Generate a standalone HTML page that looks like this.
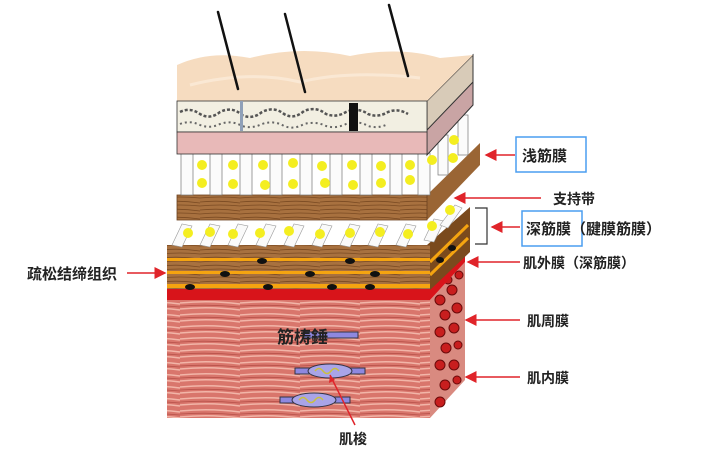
<!DOCTYPE html>
<html><head><meta charset="utf-8"><style>
html,body{margin:0;padding:0;background:#fff;}
svg{display:block;}
text{font-family:"Liberation Sans","Noto Sans CJK SC",sans-serif;fill:#222;font-weight:bold;}
</style></head><body>
<svg width="704" height="461" viewBox="0 0 704 461" xmlns="http://www.w3.org/2000/svg">
<defs>
<pattern id="wood" width="40" height="8" patternUnits="userSpaceOnUse">
<rect width="40" height="8" fill="#a8713f"/><path d="M0 2 Q20 0 40 3 M0 6 Q20 4 40 6" stroke="#7a4a22" stroke-width="0.8" fill="none"/>
</pattern>
<pattern id="muscle" width="60" height="12" patternUnits="userSpaceOnUse">
<rect width="60" height="12" fill="#d9766c"/><path d="M0 3 Q30 0 60 4 M0 9 Q30 6 60 10" stroke="#f2b5a8" stroke-width="1.5" fill="none"/><path d="M0 6 Q30 4 60 7" stroke="#b8524a" stroke-width="0.8" fill="none"/>
</pattern>
<marker id="ar" markerWidth="8" markerHeight="8" refX="7" refY="4" orient="auto"><path d="M0 0 L8 4 L0 8z" fill="#e0242a"/></marker>
</defs>

<!-- muscle block -->
<polygon points="430,300 465,262 465,380 430,418" fill="#d98a80"/>
<g fill="#c81e1e" stroke="#6a0a0a" stroke-width="1">
<circle cx="440" cy="300" r="5"/><circle cx="452" cy="290" r="5"/><circle cx="445" cy="315" r="5"/><circle cx="457" cy="308" r="5"/><circle cx="440" cy="332" r="5"/><circle cx="454" cy="328" r="5"/><circle cx="446" cy="348" r="5"/><circle cx="458" cy="345" r="4"/><circle cx="440" cy="365" r="5"/><circle cx="454" cy="365" r="5"/><circle cx="445" cy="385" r="5"/><circle cx="457" cy="380" r="4"/><circle cx="440" cy="402" r="5"/><circle cx="459" cy="275" r="4"/><circle cx="448" cy="280" r="4"/>
</g>
<rect x="167" y="300" width="263" height="118" fill="url(#muscle)"/>
<!-- red layer -->
<polygon points="167,287 430,287 465,252 465,262 430,300 167,300" fill="#d8141a"/>
<!-- deep fascia block -->
<polygon points="427,245 470,207 470,252 430,290" fill="#7a4a1d"/>
<path d="M430,262 L468,225 M430,275 L468,238" stroke="#f5a410" stroke-width="3"/>
<rect x="167" y="245" width="263" height="44" fill="url(#wood)"/>
<rect x="167" y="258" width="263" height="3" fill="#f5a410"/>
<rect x="167" y="271" width="263" height="3" fill="#f5a410"/>
<rect x="167" y="284" width="263" height="4" fill="#f5a410"/>
<g fill="#111">
<ellipse cx="262" cy="261" rx="5" ry="3"/><ellipse cx="350" cy="261" rx="5" ry="3"/><ellipse cx="225" cy="274" rx="5" ry="3"/><ellipse cx="310" cy="274" rx="5" ry="3"/><ellipse cx="375" cy="274" rx="5" ry="3"/><ellipse cx="190" cy="287" rx="5" ry="3"/><ellipse cx="268" cy="287" rx="5" ry="3"/><ellipse cx="332" cy="287" rx="5" ry="3"/><ellipse cx="370" cy="287" rx="5" ry="3"/><ellipse cx="440" cy="260" rx="4" ry="3"/><ellipse cx="452" cy="248" rx="4" ry="3"/>
</g>
<!-- diagonal slats -->
<g fill="#fafafa" stroke="#999" stroke-width="0.6">
<polygon points="172,245 182,224 192,226 182,247"/><polygon points="200,245 210,224 220,226 210,247"/><polygon points="228,245 238,224 248,226 238,247"/><polygon points="256,245 266,224 276,226 266,247"/><polygon points="284,245 294,224 304,226 294,247"/><polygon points="312,245 322,224 332,226 322,247"/><polygon points="340,245 350,224 360,226 350,247"/><polygon points="368,245 378,224 388,226 378,247"/><polygon points="396,245 406,224 416,226 406,247"/><polygon points="424,240 434,219 444,221 434,242"/><polygon points="440,225 455,205 462,208 448,228"/>
</g>
<g fill="#f4ee20">
<circle cx="188" cy="233" r="5"/><circle cx="210" cy="232" r="5"/><circle cx="233" cy="234" r="5"/><circle cx="260" cy="233" r="5"/><circle cx="289" cy="231" r="5"/><circle cx="320" cy="234" r="5"/><circle cx="350" cy="233" r="5"/><circle cx="380" cy="232" r="5"/><circle cx="408" cy="234" r="5"/><circle cx="432" cy="226" r="5"/><circle cx="450" cy="210" r="5"/>
</g>
<!-- brown board -->
<polygon points="427,195 480,143 480,165 427,220" fill="#9a6534"/>
<rect x="177" y="195" width="250" height="25" fill="url(#wood)" stroke="#6b4220" stroke-width="0.8"/>
<!-- white columns -->
<g fill="#fbfbfb" stroke="#777" stroke-width="0.7">
<rect x="181" y="153" width="12" height="42"/><rect x="210" y="153" width="12" height="42"/><rect x="240" y="153" width="12" height="42"/><rect x="270" y="153" width="12" height="42"/><rect x="300" y="153" width="12" height="42"/><rect x="330" y="153" width="12" height="42"/><rect x="360" y="153" width="12" height="42"/><rect x="390" y="153" width="12" height="42"/><rect x="418" y="153" width="12" height="42"/><rect x="438" y="135" width="10" height="40"/><rect x="458" y="115" width="10" height="40"/>
</g>
<g fill="#f4ee20">
<circle cx="202" cy="165" r="5"/><circle cx="202" cy="183" r="5"/><circle cx="233" cy="165" r="5"/><circle cx="233" cy="184" r="5"/><circle cx="263" cy="165" r="5"/><circle cx="265" cy="185" r="5"/><circle cx="293" cy="163" r="5"/><circle cx="293" cy="184" r="5"/><circle cx="322" cy="166" r="5"/><circle cx="325" cy="183" r="5"/><circle cx="352" cy="165" r="5"/><circle cx="353" cy="185" r="5"/><circle cx="381" cy="166" r="5"/><circle cx="381" cy="183" r="5"/><circle cx="410" cy="165" r="5"/><circle cx="410" cy="180" r="5"/><circle cx="432" cy="160" r="5"/><circle cx="454" cy="140" r="5"/><circle cx="453" cy="158" r="5"/>
</g>
<!-- skin block -->
<polygon points="427,101 473,55 473,105 427,155" fill="#c9a4a4" stroke="#333" stroke-width="1"/>
<polygon points="427,101 473,55 473,82 427,130" fill="#d8cbb8" stroke="#333" stroke-width="1"/>
<path d="M177,101 L177,65 Q210,50 250,58 Q300,45 350,56 Q400,46 440,58 L473,55 L427,101 Z" fill="#f6dcc0"/>
<path d="M190,85 Q250,70 300,82 Q350,70 420,78" stroke="#fae8d4" stroke-width="3" fill="none"/>
<rect x="177" y="101" width="250" height="31" fill="#f2efe2" stroke="#333" stroke-width="0.8"/>
<path d="M180,112 q10,-5 20,2 q10,6 20,-2 q12,-6 22,3 q10,5 20,-3 q12,-6 22,2 q10,6 20,-3 q12,-5 22,3 q10,4 20,-2 q12,-5 22,2 q10,4 20,-2 q10,-4 20,2" stroke="#555" stroke-width="2.5" fill="none" stroke-dasharray="3 2"/>
<path d="M180,124 q10,-4 20,1 q10,4 20,-1 q12,-4 22,2 q10,3 20,-2 q12,-4 22,2 q10,4 20,-2 q12,-3 22,2 q10,3 20,-2 q12,-4 22,2 q10,3 20,-2" stroke="#666" stroke-width="2" fill="none" stroke-dasharray="2 3"/>
<rect x="240" y="101" width="3" height="30" fill="#8fa0b8"/>
<rect x="349" y="103" width="9" height="28" fill="#111"/>
<rect x="177" y="132" width="250" height="22" fill="#e8b9b8" stroke="#333" stroke-width="0.8"/>
<!-- hairs -->
<g stroke="#111" stroke-width="2.5" stroke-linecap="round">
<line x1="218" y1="12" x2="238" y2="89"/><line x1="285" y1="14" x2="305" y2="92"/><line x1="389" y1="5" x2="408" y2="76"/>
</g>
<!-- muscle spindles -->
<g stroke="#334" stroke-width="1">
<rect x="303" y="332" width="55" height="6" fill="#8e88e0"/>
<rect x="295" y="368" width="70" height="6" fill="#8e88e0"/>
<ellipse cx="330" cy="371" rx="22" ry="7" fill="#a9a4e8"/>
<rect x="280" y="397" width="70" height="6" fill="#8e88e0"/>
<ellipse cx="314" cy="400" rx="22" ry="7" fill="#a9a4e8"/>
</g>
<path d="M315,371 q4,-5 8,0 q4,5 8,0 q4,-5 8,0 M299,400 q4,-5 8,0 q4,5 8,0 q4,-5 8,0" stroke="#c9c040" stroke-width="1.5" fill="none"/>
<text x="277" y="343" font-size="17" fill="#222" font-weight="normal">筋梼錘</text>
<line x1="330" y1="375" x2="355" y2="425" stroke="#e0242a" stroke-width="1.5"/>
<path d="M330,375 l-1,8 l6,-3z" fill="#e0242a"/>
<text x="339" y="444" font-size="14">肌梭</text>

<!-- labels -->
<g stroke="#e0242a" stroke-width="1.5" fill="none">
<line x1="515" y1="155" x2="486" y2="155" marker-end="url(#ar)"/>
<line x1="541" y1="198" x2="455" y2="198" marker-end="url(#ar)"/>
<line x1="520" y1="227" x2="492" y2="227" marker-end="url(#ar)"/>
<line x1="520" y1="262" x2="468" y2="262" marker-end="url(#ar)"/>
<line x1="520" y1="320" x2="466" y2="320" marker-end="url(#ar)"/>
<line x1="520" y1="377" x2="466" y2="377" marker-end="url(#ar)"/>
<line x1="127" y1="273" x2="165" y2="273" marker-end="url(#ar)"/>
</g>
<path d="M475,208 H487 V244 H475" stroke="#333" stroke-width="1.2" fill="none"/>
<rect x="516" y="137" width="70" height="35" fill="none" stroke="#4a9df0" stroke-width="1.5"/>
<rect x="522" y="211" width="60" height="35" fill="none" stroke="#4a9df0" stroke-width="1.5"/>
<text x="522" y="161" font-size="15">浅筋膜</text>
<text x="553" y="204" font-size="14">支持带</text>
<text x="526" y="234" font-size="15">深筋膜（腱膜筋膜）</text>
<text x="523" y="268" font-size="14">肌外膜（深筋膜）</text>
<text x="527" y="326" font-size="14">肌周膜</text>
<text x="527" y="383" font-size="14">肌内膜</text>
<text x="27" y="279" font-size="15">疏松结缔组织</text>
</svg>
</body></html>
